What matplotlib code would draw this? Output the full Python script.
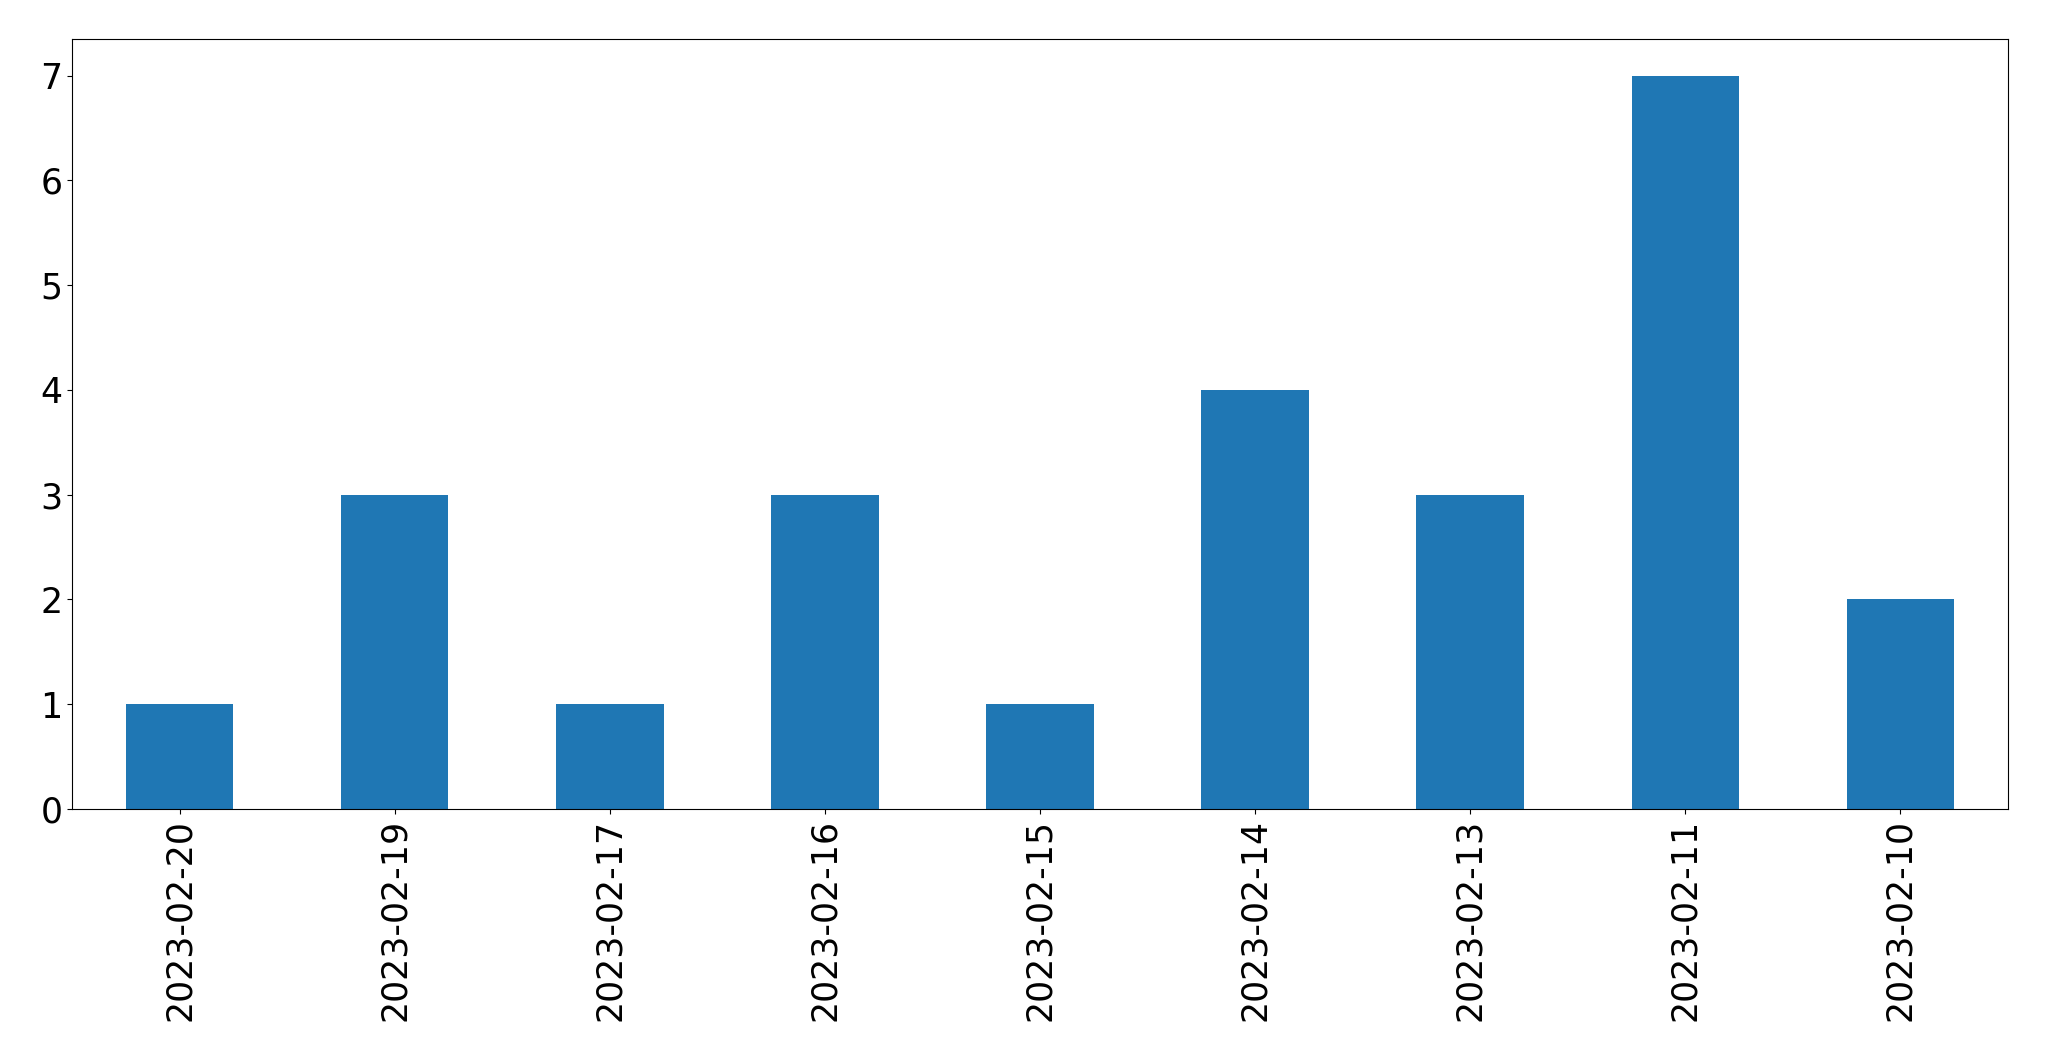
import matplotlib
matplotlib.use("Agg")
import matplotlib.pyplot as plt

dates = ['2023-02-20', '2023-02-19', '2023-02-17', '2023-02-16', '2023-02-15',
         '2023-02-14', '2023-02-13', '2023-02-11', '2023-02-10']
counts = [1, 3, 1, 3, 1, 4, 3, 7, 2]

fig, ax = plt.subplots(figsize=(20.49, 10.61), dpi=100)
fig.subplots_adjust(left=72/2049, right=2008/2049, top=1-39/1061, bottom=1-809/1061)

x = range(len(dates))
ax.bar(x, counts, width=0.5, color='#1f77b4')
ax.set_xlim(-0.5, len(dates) - 0.5)
ax.set_xticks(list(x))
ax.set_xticklabels(dates, rotation=90)
ax.tick_params(axis='both', labelsize=25)

fig.savefig('out.png')
